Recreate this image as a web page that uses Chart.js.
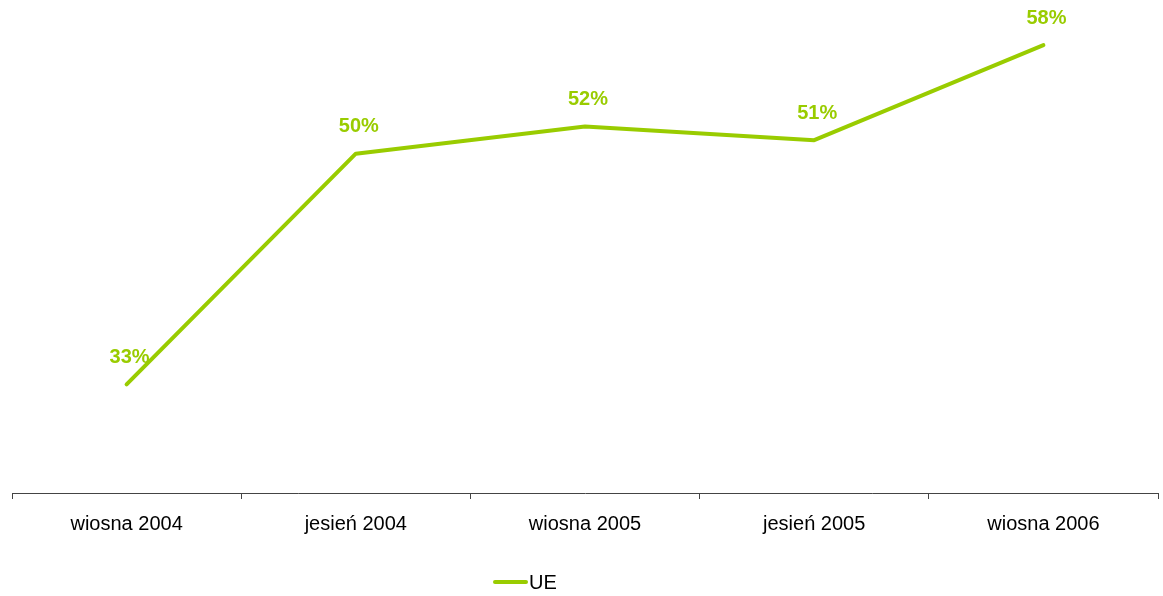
<!DOCTYPE html>
<html lang="pl">
<head>
  <meta charset="UTF-8">
  <title>UE</title>
  <script src="https://cdn.jsdelivr.net/npm/chart.js"></script>
  <style>
    body { margin: 0; background: #fff; }
    #wrap { width: 1163px; height: 596px; position: relative; }
  </style>
</head>
<body>
  <div id="wrap"><canvas id="ueChart"></canvas></div>

  <script>
    const periods = ['wiosna 2004', 'jesień 2004', 'wiosna 2005', 'jesień 2005', 'wiosna 2006'];
    const ueValues = [33, 50, 52, 51, 58];
    const seriesName = 'UE';
    const green = '#99cc00';
    const fontFamily = '"Liberation Sans", Arial, sans-serif';

    // value labels above each point
    const valueLabels = {
      id: 'valueLabels',
      afterDatasetsDraw(chart) {
        const ctx = chart.ctx;
        const meta = chart.getDatasetMeta(0);
        ctx.save();
        ctx.font = 'bold 20px ' + fontFamily;
        ctx.fillStyle = green;
        ctx.textAlign = 'center';
        ctx.textBaseline = 'middle';
        meta.data.forEach((pt, i) => {
          ctx.fillText(ueValues[i] + '%', pt.x + 3, pt.y - 27);
        });
        ctx.restore();
      }
    };

    // simple legend drawn under the axis: short line + series name
    const bottomLegend = {
      id: 'bottomLegend',
      afterDraw(chart) {
        const ctx = chart.ctx;
        const y = chart.height - 14;
        const x = 495;
        ctx.save();
        ctx.strokeStyle = green;
        ctx.lineWidth = 4;
        ctx.lineCap = 'round';
        ctx.beginPath();
        ctx.moveTo(x, y);
        ctx.lineTo(x + 31, y);
        ctx.stroke();
        ctx.font = '20px ' + fontFamily;
        ctx.fillStyle = '#000';
        ctx.textAlign = 'left';
        ctx.textBaseline = 'middle';
        ctx.fillText(seriesName, x + 34, y + 1);
        ctx.restore();
      }
    };

    new Chart(document.getElementById('ueChart'), {
      type: 'line',
      data: {
        labels: periods,
        datasets: [{
          label: seriesName,
          data: ueValues,
          borderColor: green,
          backgroundColor: green,
          borderWidth: 4,
          borderCapStyle: 'round',
          borderJoinStyle: 'round',
          pointRadius: 0,
          tension: 0,
        }]
      },
      options: {
        responsive: true,
        maintainAspectRatio: false,
        animation: false,
        layout: { padding: { top: 18, left: 12, right: 5, bottom: 47 } },
        scales: {
          x: {
            offset: true,
            grid: {
              offset: true,
              drawOnChartArea: false,
              drawTicks: true,
              tickLength: 6,
              color: '#444',
            },
            border: { color: '#444', width: 1 },
            ticks: {
              color: '#000',
              padding: 13,
              font: { family: fontFamily, size: 20 },
            },
          },
          y: {
            display: false,
            min: 25,
            max: 60,
          },
        },
        plugins: {
          legend: { display: false },
          tooltip: { enabled: false },
        },
      },
      plugins: [valueLabels, bottomLegend],
    });
  </script>
</body>
</html>
